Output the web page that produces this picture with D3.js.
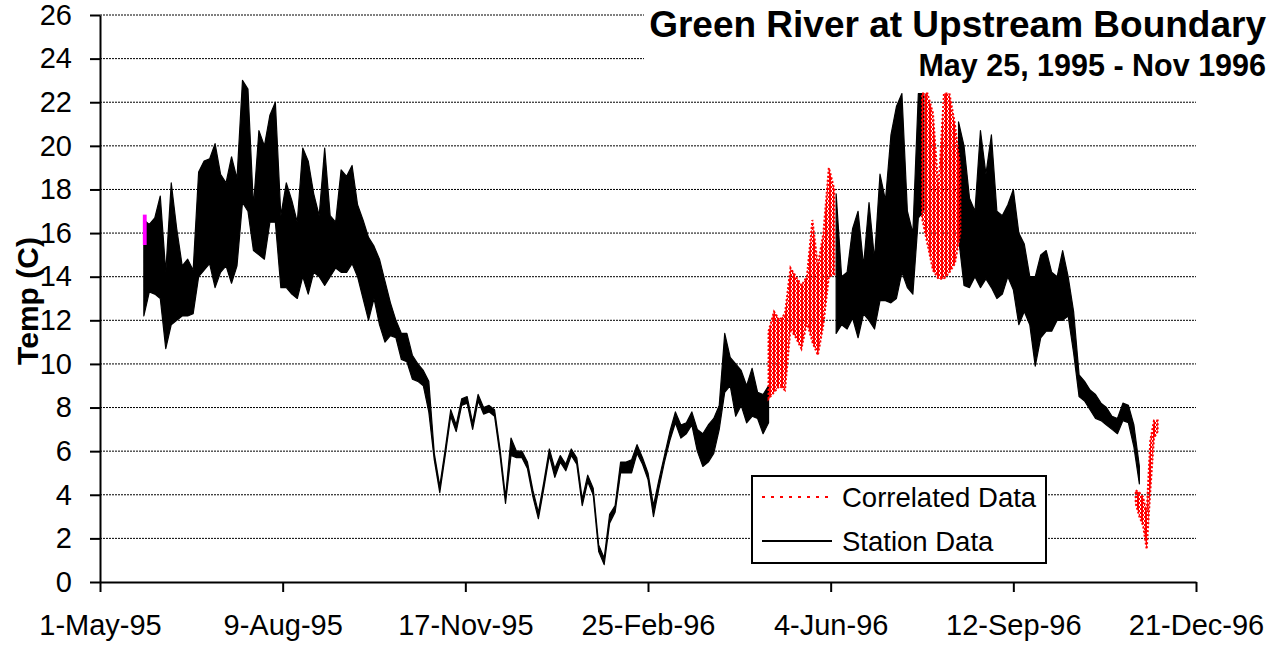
<!DOCTYPE html>
<html>
<head>
<meta charset="utf-8">
<script src="https://cdn.jsdelivr.net/npm/d3@7"></script>
<style>
  body { margin: 0; background: #fff; }
  svg { display: block; }
  text { font-family: "Liberation Sans", Arial, sans-serif; }
</style>
</head>
<body>
<div id="chart"></div>
<script>
// axis stuff
const xTickDays = [0, 100, 200, 300, 400, 500, 600]
const xTickLabels = ["1-May-95", "9-Aug-95", "17-Nov-95", "25-Feb-96", "4-Jun-96", "12-Sep-96", "21-Dec-96"]
const yTicks = [0, 2, 4, 6, 8, 10, 12, 14, 16, 18, 20, 22, 24, 26]

// station data, 3 day steps, day 0 = 1-May-95
const stationAStart = 24
const stationALow = [12.2, 13.3, 13.2, 13.0, 10.7, 11.8, 12.0, 12.2, 12.2, 12.3,
  14.0, 14.3, 14.6, 13.5, 14.2, 14.5, 13.7, 14.5, 17.4, 17.0,
  15.2, 15.0, 14.8, 16.5, 16.5, 13.5, 13.5, 13.2, 13.0, 14.0,
  13.2, 14.2, 14.0, 13.6, 14.0, 14.4, 14.2, 14.2, 14.6, 14.0,
  13.0, 12.0, 13.0, 11.8, 11.0, 11.3, 11.2, 10.2, 10.1, 9.3,
  9.2, 9.0, 7.8, 5.6, 4.1, 5.8, 7.6, 6.9, 8.1, 8.2,
  7.0, 8.3, 7.7, 7.8, 7.6, 5.8, 3.6, 5.8, 5.7, 5.7,
  5.2, 3.9, 2.9, 4.3, 5.8, 4.8, 5.5, 5.1, 5.8, 5.4,
  3.5, 4.6, 4.0, 1.4, 0.8, 2.7, 3.2, 5.0, 5.0, 5.0,
  5.9, 5.4, 4.7, 3.0, 4.3, 5.5, 6.5, 7.3, 6.6, 6.8,
  7.2, 6.0, 5.3, 5.5, 5.9, 7.0, 8.7, 9.0, 7.6, 8.1,
  7.3, 7.6, 7.5, 6.8, 7.3]
const stationAHigh = [16.6, 16.4, 16.7, 17.7, 14.2, 18.3, 16.2, 14.5, 14.8, 14.3,
  18.8, 19.3, 19.4, 20.1, 18.7, 18.3, 19.5, 18.5, 23.0, 22.6,
  17.2, 20.7, 20.0, 21.4, 22.0, 16.8, 18.3, 17.5, 16.5, 19.9,
  19.3, 17.8, 16.8, 19.9, 16.8, 16.5, 18.9, 18.6, 19.1, 17.3,
  16.6, 15.8, 15.4, 14.8, 13.8, 12.8, 12.0, 11.4, 11.4, 10.4,
  10.0, 9.7, 9.2, 5.9, 4.4, 6.1, 7.9, 7.2, 8.4, 8.5,
  7.3, 8.6, 8.0, 8.1, 7.9, 6.1, 3.9, 6.6, 6.0, 6.0,
  5.5, 4.2, 3.2, 4.6, 6.1, 5.2, 5.8, 5.4, 6.1, 5.7,
  3.8, 4.9, 4.3, 1.7, 1.1, 3.1, 3.5, 5.5, 5.5, 5.6,
  6.3, 5.7, 5.0, 3.5, 4.7, 5.8, 6.9, 7.8, 7.2, 7.3,
  7.8, 7.0, 6.8, 7.2, 7.5, 8.1, 11.4, 10.3, 10.0, 9.7,
  9.0, 9.8, 8.7, 8.6, 9.0]

const stationBStart = 403
const stationBLow = [11.4, 11.8, 11.6, 12.1, 11.2, 12.3, 12.0, 11.6, 12.9, 12.9,
  12.8, 13.0, 14.2, 13.5, 13.2, 16.7, 17.0]
const stationBHigh = [17.8, 14.0, 14.2, 16.2, 17.0, 14.5, 17.4, 14.8, 18.7, 17.5,
  20.5, 21.8, 22.4, 17.0, 16.0, 22.4, 22.4]

const stationCStart = 470
const stationCLow = [15.8, 13.6, 13.5, 14.0, 13.5, 13.9, 13.5, 13.0, 13.2, 14.0,
  13.4, 11.8, 12.4, 11.8, 9.9, 11.2, 11.5, 11.5, 12.0, 12.0,
  12.2, 10.5, 8.5, 8.3, 7.9, 7.5, 7.4, 7.2, 7.0, 6.8,
  7.4, 7.3, 6.2, 4.5]
const stationCHigh = [21.1, 20.0, 17.6, 17.0, 20.7, 18.7, 20.5, 17.0, 16.8, 17.3,
  18.0, 16.0, 15.5, 14.0, 14.0, 15.0, 15.2, 14.2, 14.0, 15.2,
  14.0, 12.4, 9.5, 9.2, 8.8, 8.6, 8.2, 8.0, 7.6, 7.5,
  8.2, 8.1, 7.2, 5.3]

// correlated data
const corrAStart = 366
const corrALow = [8.4, 8.7, 9.0, 8.8, 11.6, 11.2, 10.7, 11.9, 11.0, 10.4, 11.8, 14.0, 14.1]
const corrAHigh = [11.5, 12.4, 12.0, 12.3, 14.4, 14.0, 13.6, 14.0, 16.6, 14.5, 16.0, 19.0, 18.0]

const corrBStart = 450
const corrBLow = [16.7, 15.5, 14.3, 13.9, 13.9, 14.2, 14.6, 16.0]
const corrBHigh = [22.4, 22.4, 21.5, 18.0, 22.4, 22.4, 21.0, 19.0]

const corrCStart = 567
const corrCLow = [3.6, 3.0, 2.6, 1.5, 4.2, 6.6, 6.9]
const corrCHigh = [4.2, 4.1, 3.9, 3.2, 6.5, 7.4, 7.4]

// little magenta bit at the very start
const extraDays = [24, 25]
const extraLow = [15.5, 15.5]
const extraHigh = [16.8, 16.8]

const origin = new Date(Date.UTC(1995, 4, 1))
const dayToDate = (d) => d3.utcDay.offset(origin, d)

function makeSeries(start, step, lows, highs) {
  return lows.map((l, i) => { return { date: dayToDate(start + i * step), low: l, high: highs[i] } })
}

const svg = d3.select('#chart').append('svg').attr('width', 1284).attr('height', 646)

const x = d3.scaleUtc().domain([dayToDate(0), dayToDate(600)]).range([100, 1196])
const y = d3.scaleLinear().domain([0, 26]).range([582, 15])

// red speckle fill
const defs = svg.append('defs')
const pat = defs.append('pattern').attr('id', 'speckle').attr('patternUnits', 'userSpaceOnUse')
  .attr('width', 4).attr('height', 4)
pat.append('rect').attr('x', 0).attr('y', 0).attr('width', 3).attr('height', 2).attr('fill', '#ff0000')
pat.append('rect').attr('x', 1).attr('y', 2).attr('width', 3).attr('height', 2).attr('fill', '#ff0000')

// grid
svg.append('g').selectAll('line').data(yTicks.filter((d) => d > 0)).enter().append('line')
  .attr('x1', x.range()[0]).attr('x2', x.range()[1])
  .attr('y1', (d) => y(d)).attr('y2', (d) => y(d))
  .attr('stroke', '#000').attr('stroke-width', 1).attr('stroke-dasharray', '2,1')

// white box behind the title
svg.append('rect').attr('x', 644).attr('y', 0).attr('width', 640).attr('height', 88).attr('fill', '#fff')

const area = d3.area().x((d) => x(d.date)).y0((d) => y(d.low)).y1((d) => y(d.high))

const stations = [
  makeSeries(stationAStart, 3, stationALow, stationAHigh),
  makeSeries(stationBStart, 3, stationBLow, stationBHigh),
  makeSeries(stationCStart, 3, stationCLow, stationCHigh)
]
svg.append('g').selectAll('path').data(stations).enter().append('path')
  .attr('d', area).attr('fill', '#000').attr('stroke', '#000').attr('stroke-width', 1.2)
  .attr('stroke-linejoin', 'round')

const corr = [
  makeSeries(corrAStart, 3, corrALow, corrAHigh),
  makeSeries(corrBStart, 3, corrBLow, corrBHigh),
  makeSeries(corrCStart, 2, corrCLow, corrCHigh)
]
svg.append('g').selectAll('path').data(corr).enter().append('path')
  .attr('d', area).attr('fill', 'url(#speckle)')
  .attr('stroke', '#ff0000').attr('stroke-width', 2).attr('stroke-dasharray', '2,2')

svg.append('path').attr('d', area(makeSeries(extraDays[0], 1, extraLow, extraHigh)))
  .attr('fill', '#ff00ff').attr('stroke', '#ff00ff').attr('stroke-width', 2)

// axes
const axisY = d3.axisLeft(y).tickValues(yTicks).tickSize(10).tickSizeOuter(0).tickPadding(18)
const gy = svg.append('g').attr('transform', 'translate(100,0)').call(axisY)
const axisX = d3.axisBottom(x).tickValues(xTickDays.map(dayToDate)).tickSize(10).tickSizeOuter(0)
  .tickPadding(22).tickFormat((d, i) => xTickLabels[i])
const gx = svg.append('g').attr('transform', 'translate(0,582)').call(axisX)
;[gx, gy].forEach((g) => {
  g.attr('font-size', 29).attr('font-family', '"Liberation Sans", Arial, sans-serif')
  g.select('.domain').attr('stroke', '#000').attr('stroke-width', 2)
  g.selectAll('.tick line').attr('stroke', '#000').attr('stroke-width', 2)
  g.selectAll('.tick text').attr('fill', '#000')
})

svg.append('text').attr('transform', 'translate(38,301) rotate(-90)').attr('text-anchor', 'middle')
  .attr('font-size', 30).attr('font-weight', 'bold').text('Temp (C)')

// titles
svg.append('text').attr('x', 1266).attr('y', 37).attr('text-anchor', 'end')
  .attr('font-size', 37).attr('font-weight', 'bold').text('Green River at Upstream Boundary')
svg.append('text').attr('x', 1266).attr('y', 76).attr('text-anchor', 'end')
  .attr('font-size', 30.5).attr('font-weight', 'bold').text('May 25, 1995 - Nov 1996')

// legend
const legend = svg.append('g').attr('transform', 'translate(752,476)')
legend.append('rect').attr('width', 294).attr('height', 87).attr('fill', '#fff')
  .attr('stroke', '#000').attr('stroke-width', 2)
const legendItems = [
  { label: 'Correlated Data', color: '#ff0000', dash: '3,6' },
  { label: 'Station Data', color: '#000', dash: null }
]
legendItems.forEach((it, i) => {
  const yy = 21 + i * 44
  legend.append('line').attr('x1', 10).attr('x2', 80).attr('y1', yy).attr('y2', yy)
    .attr('stroke', it.color).attr('stroke-width', 2).attr('stroke-dasharray', it.dash)
  legend.append('text').attr('x', 90).attr('y', yy + 10).attr('font-size', 27.5).text(it.label)
})
</script>
</body>
</html>
